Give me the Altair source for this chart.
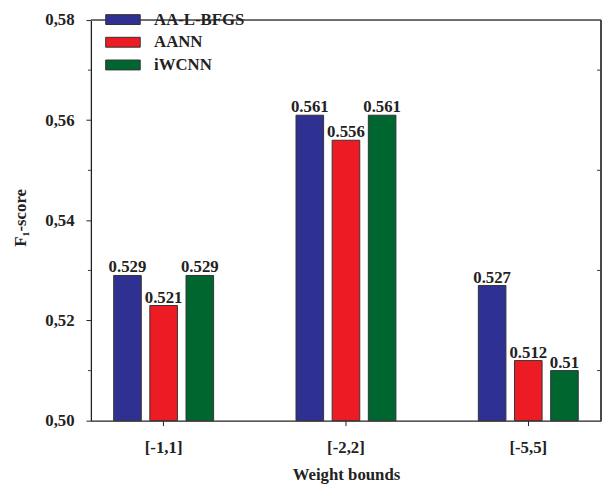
import altair as alt
import pandas as pd

groups = ["[-1,1]", "[-2,2]", "[-5,5]"]
methods = ["AA-L-BFGS", "AANN", "iWCNN"]
colors = ["#2E3192", "#ED1C24", "#00662F"]

aa_lbfgs = [0.529, 0.561, 0.527]
aann = [0.523, 0.556, 0.512]
iwcnn = [0.529, 0.561, 0.510]

aa_lbfgs_lbl = ["0.529", "0.561", "0.527"]
aann_lbl = ["0.521", "0.556", "0.512"]
iwcnn_lbl = ["0.529", "0.561", "0.51"]

y_major = [0.50, 0.52, 0.54, 0.56, 0.58]
y_minor = [0.51, 0.53, 0.55, 0.57]
y_base = 0.50

rows = []
for vals, lbls, m in [(aa_lbfgs, aa_lbfgs_lbl, methods[0]),
                      (aann, aann_lbl, methods[1]),
                      (iwcnn, iwcnn_lbl, methods[2])]:
    for g, v, l in zip(groups, vals, lbls):
        rows.append({"group": g, "method": m, "value": v, "label": l})
df = pd.DataFrame(rows)
minor_df = pd.DataFrame({"v": y_minor})

W, H = 517, 406
FONT = "Liberation Serif"
FS = 17

yscale = alt.Scale(domain=[0.50, 0.58], nice=False, zero=False)

x_enc = alt.X("group:N", sort=groups,
              scale=alt.Scale(paddingInner=0.452, paddingOuter=0.125),
              axis=alt.Axis(title="Weight bounds", labelAngle=0, tickSize=5,
                            labelPadding=14, labelFontSize=FS,
                            titleY=60, titleBaseline="alphabetic",
                            titleFontSize=FS))
xo_enc = alt.XOffset("method:N", sort=methods,
                     scale=alt.Scale(paddingInner=0.237, paddingOuter=0))

legend = alt.Legend(title=None, orient="none", legendX=24, legendY=-9,
                    symbolType="M-3.5,-1H3.5V1H-3.5Z", symbolSize=100,
                    symbolStrokeColor="#333", symbolStrokeWidth=1,
                    symbolOpacity=1, labelFont=FONT, labelFontSize=FS,
                    labelFontWeight="bold", labelColor="#222",
                    labelOffset=23, rowPadding=5, padding=0)

bars = alt.Chart(df).mark_bar(stroke="#333", strokeWidth=1).encode(
    x=x_enc,
    xOffset=xo_enc,
    y=alt.Y("value:Q", scale=yscale,
            axis=alt.Axis(values=y_major, title="F₁-score", tickSize=5,
                          labelPadding=12, labelFontSize=FS,
                          labelExpr="replace(format(datum.value, '.2f'), '.', ',')",
                          titleX=-71, titleY=200, titleAngle=-90,
                          titleAlign="center", titleBaseline="middle",
                          titleFontSize=FS, grid=False)),
    y2=alt.datum(y_base),
    color=alt.Color("method:N", sort=methods,
                    scale=alt.Scale(domain=methods, range=colors),
                    legend=legend),
)

texts = alt.Chart(df).mark_text(font=FONT, fontSize=FS, fontWeight="bold",
                                baseline="alphabetic", dy=-3,
                                color="#222").encode(
    x=alt.X("group:N", sort=groups),
    xOffset=alt.XOffset("method:N", sort=methods),
    y=alt.Y("value:Q"),
    text="label:N",
)

left_minor = alt.Chart(minor_df).mark_rule(color="#333", strokeWidth=1).encode(
    y=alt.Y("v:Q"),
    x=alt.value(-3),
    x2=alt.value(0),
)

right_minor = alt.Chart(minor_df).mark_rule(color="#333", strokeWidth=1).encode(
    y=alt.Y("v:Q"),
    x=alt.value(W - 4),
    x2=alt.value(W),
)

top_border = alt.Chart(minor_df).mark_rule(color="#666", strokeWidth=1).encode(
    x=alt.value(0), x2=alt.value(W), y=alt.value(0),
)
right_border = alt.Chart(minor_df).mark_rule(color="#444", strokeWidth=1.2).encode(
    x=alt.value(W), y=alt.value(0), y2=alt.value(H),
)

chart = alt.layer(bars, texts, left_minor, right_minor, top_border,
                  right_border).properties(
    width=W, height=H,
    autosize=alt.AutoSizeParams(type="none"),
    padding={"left": 84, "top": 9, "right": 3, "bottom": 65},
).configure_view(
    stroke=None
).configure_axis(
    labelFont=FONT, titleFont=FONT, labelFontWeight="bold",
    titleFontWeight="bold", labelColor="#222", titleColor="#222",
    domainColor="#222", domainWidth=1.3, tickColor="#222", tickWidth=1,
    grid=False,
)

chart.save("out.html", embed_options={"renderer": "svg", "actions": False})
